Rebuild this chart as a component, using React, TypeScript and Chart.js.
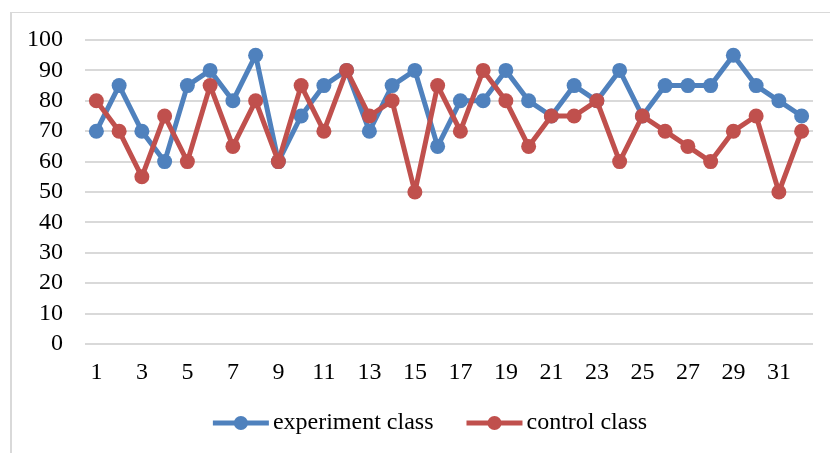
import React, { useEffect, useRef } from "react";
import { Chart, registerables } from "chart.js";

Chart.register(...registerables);

const categories = Array.from({ length: 32 }, (_, i) => String(i + 1));
const experimentClass = [70, 85, 70, 60, 85, 90, 80, 95, 60, 75, 85, 90, 70, 85, 90, 65, 80, 80, 90, 80, 75, 85, 80, 90, 75, 85, 85, 85, 95, 85, 80, 75];
const controlClass = [80, 70, 55, 75, 60, 85, 65, 80, 60, 85, 70, 90, 75, 80, 50, 85, 70, 90, 80, 65, 75, 75, 80, 60, 75, 70, 65, 60, 70, 75, 50, 70];
const seriesNames = ["experiment class", "control class"];
const seriesColors = ["#4F81BD", "#C0504D"];

const FONT = "'Liberation Serif', 'Times New Roman', serif";
const FONT_SIZE = 24;

const legendPlugin = {
  id: "excelLegend",
  afterDraw(chart: any) {
    const ctx = chart.ctx;
    ctx.save();
    ctx.font = `${FONT_SIZE}px ${FONT}`;
    const marker = 56;
    const gapText = 4;
    const itemGap = 33;
    const ds = chart.data.datasets;
    const widths = ds.map((d: any) => marker + gapText + ctx.measureText(d.label).width);
    const total = widths.reduce((a: number, b: number) => a + b, 0) + itemGap * (ds.length - 1);
    let x = chart.width / 2 + 15 - total / 2;
    const y = 423;
    ds.forEach((d: any, i: number) => {
      ctx.strokeStyle = d.borderColor;
      ctx.lineWidth = 5;
      ctx.lineCap = "butt";
      ctx.beginPath();
      ctx.moveTo(x, y);
      ctx.lineTo(x + marker, y);
      ctx.stroke();
      ctx.fillStyle = d.borderColor;
      ctx.beginPath();
      ctx.arc(x + marker / 2, y, 7, 0, Math.PI * 2);
      ctx.fill();
      ctx.fillStyle = "#000";
      ctx.textBaseline = "middle";
      ctx.textAlign = "left";
      ctx.fillText(d.label, x + marker + gapText, y);
      x += widths[i] + itemGap;
    });
    ctx.restore();
  },
};

export default function App() {
  const ref = useRef<HTMLCanvasElement>(null);
  useEffect(() => {
    const canvas = ref.current!;
    const chart = new Chart(canvas, {
      type: "line",
      data: {
        labels: categories,
        datasets: [
          {
            label: seriesNames[0],
            data: experimentClass,
            borderColor: seriesColors[0],
            backgroundColor: seriesColors[0],
            pointBackgroundColor: seriesColors[0],
            borderWidth: 5,
            borderJoinStyle: "round",
            borderCapStyle: "round",
            pointRadius: 7.5,
            pointBorderWidth: 0,
            tension: 0,
            order: 1,
          },
          {
            label: seriesNames[1],
            data: controlClass,
            borderColor: seriesColors[1],
            backgroundColor: seriesColors[1],
            pointBackgroundColor: seriesColors[1],
            borderWidth: 5,
            borderJoinStyle: "round",
            borderCapStyle: "round",
            pointRadius: 7.5,
            pointBorderWidth: 0,
            tension: 0,
            order: 0,
          },
        ],
      },
      options: {
        responsive: false,
        animation: false,
        layout: { padding: { top: 40, right: 17, bottom: 0, left: 0 } },
        plugins: {
          legend: { display: false },
          tooltip: { enabled: false },
        },
        scales: {
          x: {
            offset: true,
            grid: { display: false, drawTicks: false },
            border: { display: false },
            afterFit: (s: any) => {
              s.height = 109;
            },
            ticks: {
              autoSkip: false,
              maxRotation: 0,
              padding: 14,
              color: "#000",
              font: { family: FONT, size: FONT_SIZE },
              callback: function (this: any, value: any, index: number) {
                return index % 2 === 0 ? this.getLabelForValue(value) : "";
              },
            },
          },
          y: {
            min: 0,
            max: 100,
            grid: { color: "#d9d9d9", lineWidth: 2, drawTicks: false },
            border: { display: false },
            afterFit: (s: any) => {
              s.width = 85;
            },
            ticks: {
              stepSize: 10,
              autoSkip: false,
              padding: 22,
              color: "#000",
              font: { family: FONT, size: FONT_SIZE },
            },
          },
        },
      },
      plugins: [legendPlugin],
    });
    return () => chart.destroy();
  }, []);

  return (
    <div style={{ position: "fixed", left: 0, top: 0, width: 830, height: 453, overflow: "hidden", background: "#fff" }}>
      <div
        style={{
          position: "absolute",
          left: 10,
          top: 12,
          width: 1000,
          height: 1000,
          borderLeft: "2px solid #d9d9d9",
          borderTop: "1px solid #d9d9d9",
        }}
      />
      <canvas ref={ref} width={830} height={453} style={{ position: "absolute", left: 0, top: 0, width: 830, height: 453 }} />
    </div>
  );
}
